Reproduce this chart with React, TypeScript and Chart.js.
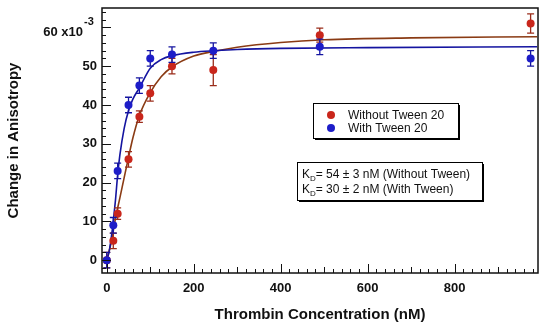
import React, { useEffect, useRef } from 'react';
import { Chart, registerables } from 'chart.js';

Chart.register(...registerables);

const concentrations = [0, 15, 25, 50, 75, 100, 150, 245, 490, 975];
const withoutTween = [0, 5, 12, 26, 37, 43, 50, 49, 58, 61];
const withoutTweenErr = [2, 2, 1.5, 2, 1.5, 2, 2, 4, 1.8, 2.5];
const withTween = [0, 9, 23, 40, 45, 52, 53, 54, 55, 52];
const withTweenErr = [2, 2, 2, 2, 2, 2, 2, 2, 2, 2];

// Fitted curves
const fitWithoutX = [0, 10, 20, 30, 40, 50, 60, 75, 100, 125, 150, 200, 250, 300, 400, 500, 700, 990];
const fitWithoutY = [0, 4.5, 10.8, 16, 21.3, 26.5, 31.5, 37.3, 43.2, 47.3, 49.8, 52.6, 53.9, 54.9, 56.1, 56.8, 57.3, 57.6];
const fitWithX = [0, 5, 10, 15, 20, 25, 30, 40, 50, 60, 75, 100, 125, 150, 200, 250, 300, 400, 600, 990];
const fitWithY = [0, 2, 5.5, 10, 15.5, 22, 27, 34, 38.5, 41.5, 44.4, 49.5, 51.7, 52.7, 53.6, 54, 54.3, 54.6, 54.8, 55];

const xTickValues = [0, 200, 400, 600, 800];
const yTickValues = [0, 10, 20, 30, 40, 50, 60];
const yTopLabel = '60 x10';
const yExponent = '-3';
const seriesLabels = ['Without Tween 20', 'With Tween 20'];
const kdLines = ['= 54 ± 3 nM (Without Tween)', '= 30 ± 2 nM (With Tween)'];
const xTitle = 'Thrombin Concentration (nM)';
const yTitle = 'Change in Anisotropy';

const RED = '#c9261b';
const BLUE = '#1d1dc8';
const RED_LINE = '#8a3b14';
const BLUE_LINE = '#1414a0';
const FONT = '"Liberation Sans", Arial, Helvetica, sans-serif';

const toPts = (xs: number[], ys: number[]) => xs.map((x, i) => ({ x, y: ys[i] }));

const errorBarPlugin = {
  id: 'errorBars',
  beforeDatasetDraw(chart: any, args: any) {
    const ds: any = chart.data.datasets[args.index];
    if (!ds.errors) return;
    const yScale = chart.scales.y;
    const ctx = chart.ctx;
    ctx.save();
    ctx.strokeStyle = ds.errorColor;
    ctx.lineWidth = 1.3;
    args.meta.data.forEach((pt: any, i: number) => {
      const v = ds.data[i].y;
      const e = ds.errors[i];
      const yt = yScale.getPixelForValue(v + e);
      const yb = yScale.getPixelForValue(v - e);
      ctx.beginPath();
      ctx.moveTo(pt.x, yt);
      ctx.lineTo(pt.x, yb);
      ctx.moveTo(pt.x - 3.5, yt);
      ctx.lineTo(pt.x + 3.5, yt);
      ctx.moveTo(pt.x - 3.5, yb);
      ctx.lineTo(pt.x + 3.5, yb);
      ctx.stroke();
    });
    ctx.restore();
  },
};

const framePlugin = {
  id: 'frameTicks',
  afterDraw(chart: any) {
    const { ctx, chartArea: a, scales } = chart;
    const xs = scales.x;
    const ys = scales.y;
    ctx.save();
    ctx.strokeStyle = '#111';
    ctx.lineWidth = 1;
    ctx.beginPath();
    for (let v = 0; v <= xs.max; v += 20) {
      const px = Math.round(xs.getPixelForValue(v)) + 0.5;
      const len = v % 200 === 0 ? 9 : v % 100 === 0 ? 6 : 4;
      ctx.moveTo(px, a.bottom);
      ctx.lineTo(px, a.bottom - len);
    }
    for (let v = Math.ceil(ys.min / 2) * 2; v <= ys.max; v += 2) {
      const py = Math.round(ys.getPixelForValue(v)) + 0.5;
      const len = v % 10 === 0 ? 9 : 4;
      ctx.moveTo(a.left, py);
      ctx.lineTo(a.left + len, py);
    }
    ctx.stroke();
    ctx.lineWidth = 1.5;
    ctx.strokeRect(a.left, a.top, a.right - a.left, a.bottom - a.top);

    // top y label with exponent
    const topY = ys.getPixelForValue(yTickValues[yTickValues.length - 1]);
    ctx.fillStyle = '#111';
    ctx.textBaseline = 'middle';
    ctx.font = `bold 13px ${FONT}`;
    ctx.textAlign = 'right';
    ctx.fillText(yTopLabel, a.left - 19, topY + 5);
    ctx.font = `bold 11px ${FONT}`;
    ctx.textAlign = 'left';
    ctx.fillText(yExponent, a.left - 18, topY - 5);

    // legend box
    const drawBox = (x: number, y: number, w: number, h: number) => {
      ctx.fillStyle = '#000';
      ctx.fillRect(x + 2, y + 2, w, h);
      ctx.fillStyle = '#fff';
      ctx.fillRect(x, y, w, h);
      ctx.lineWidth = 1;
      ctx.strokeStyle = '#000';
      ctx.strokeRect(x + 0.5, y + 0.5, w, h);
    };
    drawBox(313, 103, 145, 35);
    const entries = chart.data.datasets.filter((d: any) => d.inLegend);
    entries.sort((p: any, q: any) => p.legendIndex - q.legendIndex);
    ctx.font = `12px ${FONT}`;
    ctx.textBaseline = 'middle';
    ctx.textAlign = 'left';
    entries.forEach((d: any, i: number) => {
      const cy = 115 + i * 13;
      ctx.fillStyle = d.backgroundColor;
      ctx.beginPath();
      ctx.arc(331, cy, 4, 0, Math.PI * 2);
      ctx.fill();
      ctx.fillStyle = '#111';
      ctx.fillText(d.label, 348, cy + 0.5);
    });

    // KD box
    drawBox(297, 162, 185, 38);
    kdLines.forEach((t, i) => {
      const by = 178 + i * 15;
      ctx.textBaseline = 'alphabetic';
      ctx.fillStyle = '#111';
      ctx.font = `12px ${FONT}`;
      ctx.fillText('K', 302, by);
      const kw = ctx.measureText('K').width;
      ctx.font = `8px ${FONT}`;
      ctx.fillText('D', 302 + kw, by + 3);
      const dw = ctx.measureText('D').width;
      ctx.font = `12px ${FONT}`;
      ctx.fillText(t, 302 + kw + dw, by);
    });
    ctx.restore();
  },
};

export default function App() {
  const ref = useRef<HTMLCanvasElement | null>(null);
  useEffect(() => {
    if (!ref.current) return;
    const tickFont = { family: FONT, size: 13, weight: 'bold' as const };
    const titleFont = { family: FONT, size: 15, weight: 'bold' as const };
    const chart = new Chart(ref.current, {
      type: 'scatter',
      data: {
        datasets: [
          {
            label: seriesLabels[1],
            data: toPts(concentrations, withTween),
            backgroundColor: BLUE,
            borderColor: BLUE,
            pointRadius: 4,
            pointBorderWidth: 0,
            showLine: false,
            order: 0,
            errors: withTweenErr,
            errorColor: BLUE_LINE,
            inLegend: true,
            legendIndex: 1,
          } as any,
          {
            label: seriesLabels[0],
            data: toPts(concentrations, withoutTween),
            backgroundColor: RED,
            borderColor: RED,
            pointRadius: 4,
            pointBorderWidth: 0,
            showLine: false,
            order: 1,
            errors: withoutTweenErr,
            errorColor: '#9a2c1a',
            inLegend: true,
            legendIndex: 0,
          } as any,
          {
            label: 'Fit with Tween',
            data: toPts(fitWithX, fitWithY),
            showLine: true,
            borderColor: BLUE_LINE,
            borderWidth: 1.6,
            pointRadius: 0,
            cubicInterpolationMode: 'monotone',
            order: 2,
          } as any,
          {
            label: 'Fit without Tween',
            data: toPts(fitWithoutX, fitWithoutY),
            showLine: true,
            borderColor: RED_LINE,
            borderWidth: 1.6,
            pointRadius: 0,
            cubicInterpolationMode: 'monotone',
            order: 3,
          } as any,
        ],
      },
      options: {
        animation: false,
        responsive: false,
        maintainAspectRatio: false,
        layout: { padding: { left: 0, right: 12, top: 8, bottom: 0 } },
        plugins: { legend: { display: false }, tooltip: { enabled: false } },
        scales: {
          x: {
            type: 'linear',
            min: -11,
            max: 992,
            grid: { display: false, drawTicks: false },
            border: { display: false },
            ticks: {
              font: tickFont,
              color: '#111',
              padding: 8,
              maxRotation: 0,
              autoSkip: false,
            },
            afterBuildTicks: (s: any) => {
              s.ticks = xTickValues.map((value) => ({ value }));
            },
            title: {
              display: true,
              text: xTitle,
              font: titleFont,
              color: '#111',
              padding: { top: 0, bottom: 6 },
            },
            afterFit: (s: any) => {
              s.height = 57;
              s.paddingLeft = 0;
              s.paddingRight = 0;
            },
          },
          y: {
            type: 'linear',
            min: -3.3,
            max: 65,
            grid: { display: false, drawTicks: false },
            border: { display: false },
            ticks: {
              font: tickFont,
              color: '#111',
              padding: 5,
              autoSkip: false,
              callback: (v: any) => (v === 60 ? '' : String(v)),
            },
            afterBuildTicks: (s: any) => {
              s.ticks = yTickValues.map((value) => ({ value }));
            },
            title: {
              display: true,
              text: yTitle,
              font: titleFont,
              color: '#111',
              padding: { top: 5, bottom: 0 },
            },
            afterFit: (s: any) => {
              s.width = 102;
              s.paddingTop = 0;
              s.paddingBottom = 0;
            },
          },
        },
      } as any,
      plugins: [errorBarPlugin, framePlugin],
    });
    return () => chart.destroy();
  }, []);
  return (
    <div style={{ position: 'fixed', left: 0, top: 0, width: 550, height: 330, background: '#fff' }}>
      <canvas ref={ref} width={550} height={330} style={{ display: 'block', width: 550, height: 330 }} />
    </div>
  );
}
